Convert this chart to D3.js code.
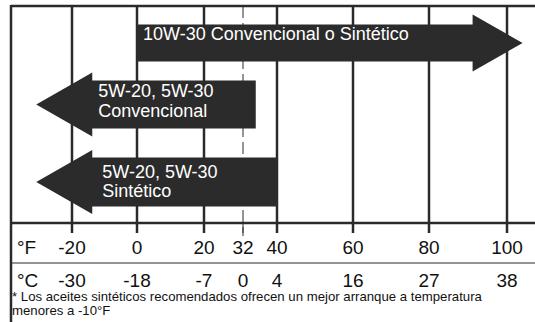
<!DOCTYPE html>
<html>
<head>
<meta charset="utf-8">
<script src="https://cdn.jsdelivr.net/npm/d3@7"></script>
<style>
    body { margin: 0; background: #fff; }
    svg { display: block; }
    text { font-family: "Liberation Sans", Arial, Helvetica, sans-serif; }
</style>
</head>
<body>
<svg id="chart" width="535" height="322"></svg>
<script>
// Chart data
const fahrenheitTicks = [-20, 0, 20, 32, 40, 60, 80, 100];
const celsiusLabels = ['-30', '-18', '-7', '0', '4', '16', '27', '38'];
const dashedTicks = [32];

// Oil ranges in °F: flat end -> arrow tip
const oilLabels = [
    ['10W-30 Convencional o Sintético'],
    ['5W-20, 5W-30', 'Convencional'],
    ['5W-20, 5W-30', 'Sintético']
];
const oilFrom = [0, 35, 40];
const oilTo = [104, -31, -31];

const footnoteLines = [
    '* Los aceites sintéticos recomendados ofrecen un mejor arranque a temperatura',
    'menores a -10°F'
];

// Layout
const width = 535, height = 322;
const frameLeft = 11, frameTop = 6;
const axisY = 223, dividerY = 263;
const tickEnd = 233;
const ink = '#2a2a2a';

// Arrow rows: center, half body height, half head height, head length, text offsets
const rows = [
    { cy: 43, body: 18.5, head: 28.5, headLen: 50, tx: 6, ty: [-3] },
    { cy: 104.5, body: 24, head: 32, headLen: 56, tx: 6, ty: [-7.5, 12.5] },
    { cy: 182, body: 24.5, head: 32, headLen: 56, tx: 10, ty: [-4, 15] }
];

// Printed scale is not quite evenly spaced, so use a piecewise scale
const x = d3.scaleLinear()
    .domain(fahrenheitTicks)
    .range([72, 137, 204, 243, 277, 353, 429, 507]);

const svg = d3.select('#chart');

svg.append('rect')
    .attr('width', width)
    .attr('height', height)
    .attr('fill', '#fff');

// Frame
svg.append('line')
    .attr('x1', frameLeft).attr('x2', width)
    .attr('y1', frameTop).attr('y2', frameTop)
    .attr('stroke', ink).attr('stroke-width', 2.5);

svg.append('line')
    .attr('x1', frameLeft).attr('x2', frameLeft)
    .attr('y1', frameTop - 1).attr('y2', height)
    .attr('stroke', ink).attr('stroke-width', 2.5);

// Vertical grid lines with tick stubs below the axis
svg.selectAll('.grid')
    .data(fahrenheitTicks)
    .enter()
    .append('line')
    .attr('class', 'grid')
    .attr('x1', d => x(d)).attr('x2', d => x(d))
    .attr('y1', frameTop).attr('y2', tickEnd)
    .attr('stroke', ink)
    .attr('stroke-width', d => dashedTicks.includes(d) ? 1 : 2.5)
    .attr('stroke-dasharray', d => dashedTicks.includes(d) ? '12,5' : null);

// Extra solid stub under the dashed line
svg.selectAll('.stub')
    .data(dashedTicks)
    .enter()
    .append('line')
    .attr('x1', d => x(d)).attr('x2', d => x(d))
    .attr('y1', axisY).attr('y2', tickEnd + 3)
    .attr('stroke', ink).attr('stroke-width', 1);

// Axis line
svg.append('line')
    .attr('x1', frameLeft).attr('x2', width)
    .attr('y1', axisY).attr('y2', axisY)
    .attr('stroke', ink).attr('stroke-width', 2.5);

// Thin divider between °F and °C rows
svg.append('line')
    .attr('x1', frameLeft).attr('x2', width)
    .attr('y1', dividerY).attr('y2', dividerY)
    .attr('stroke', ink).attr('stroke-width', 1);

// Arrows
function arrowPath(from, to, r) {
    const x0 = x(from), xt = x(to);
    const dir = xt > x0 ? 1 : -1;
    const xb = xt - dir * r.headLen;
    const pts = [
        [x0, r.cy - r.body], [xb, r.cy - r.body], [xb, r.cy - r.head],
        [xt, r.cy],
        [xb, r.cy + r.head], [xb, r.cy + r.body], [x0, r.cy + r.body]
    ];
    return d3.line()(pts) + 'Z';
}

const arrows = svg.selectAll('.arrow')
    .data(oilLabels.map((lines, i) => ({ lines: lines, from: oilFrom[i], to: oilTo[i], row: rows[i] })))
    .enter()
    .append('g')
    .attr('class', 'arrow');

arrows.append('path')
    .attr('d', d => arrowPath(d.from, d.to, d.row))
    .attr('fill', '#2b2b2b');

arrows.each(function(d) {
    const g = d3.select(this);
    const startX = d.to > d.from ? x(d.from) : x(d.to) + d.row.headLen;
    d.lines.forEach((line, j) => {
        g.append('text')
            .attr('x', startX + d.row.tx)
            .attr('y', d.row.cy + d.row.ty[j])
            .attr('font-size', 18)
            .attr('fill', '#fff')
            .text(line);
    });
});

// Scale labels
svg.append('text')
    .attr('x', 17).attr('y', 254)
    .attr('font-size', 19).attr('fill', '#111')
    .text('°F');

svg.append('text')
    .attr('x', 17).attr('y', 287)
    .attr('font-size', 19).attr('fill', '#111')
    .text('°C');

svg.selectAll('.ftick')
    .data(fahrenheitTicks)
    .enter()
    .append('text')
    .attr('x', d => x(d))
    .attr('y', 254)
    .attr('text-anchor', 'middle')
    .attr('font-size', 19).attr('fill', '#111')
    .text(d => d);

svg.selectAll('.ctick')
    .data(celsiusLabels)
    .enter()
    .append('text')
    .attr('x', (d, i) => x(fahrenheitTicks[i]))
    .attr('y', 287)
    .attr('text-anchor', 'middle')
    .attr('font-size', 19).attr('fill', '#111')
    .text(d => d);

// Footnote
svg.selectAll('.note')
    .data(footnoteLines)
    .enter()
    .append('text')
    .attr('x', 12)
    .attr('y', (d, i) => 301 + i * 14)
    .attr('font-size', 13.2).attr('fill', '#111')
    .text(d => d);
</script>
</body>
</html>
